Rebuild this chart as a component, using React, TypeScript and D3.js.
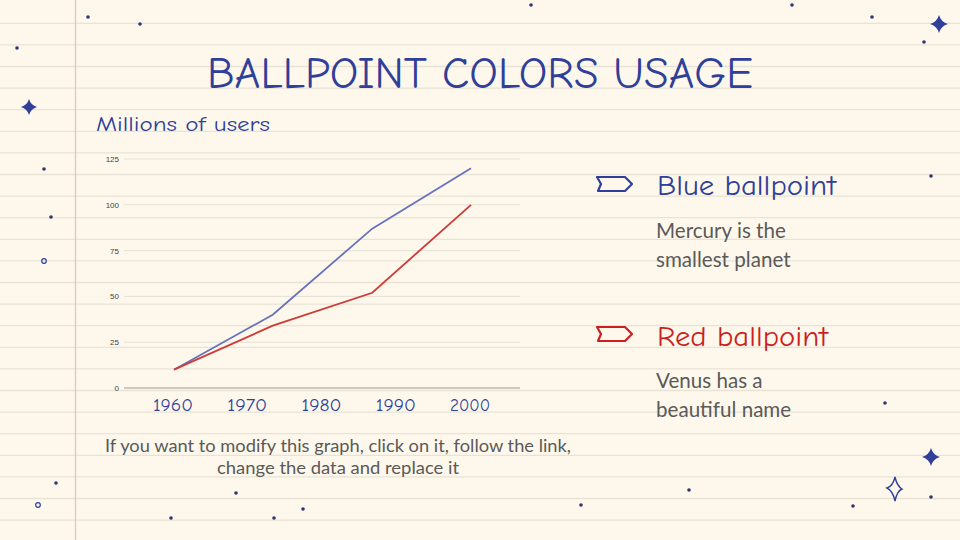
import React from "react";
import * as d3 from "d3";

const years = [1960, 1973.3, 1986.7, 2000];
const blueValues = [10, 40, 87, 120];
const redValues = [10, 34, 52, 100];
const yTicks = [0, 25, 50, 75, 100, 125];
const xTickLabels = [1960, 1970, 1980, 1990, 2000];

const dots: [number, number][] = [
  [88, 17], [140, 24], [531, 5], [792, 5], [872, 17], [924, 42], [17, 48],
  [44, 169], [51, 217], [931, 176], [885, 403], [931, 497], [56, 483],
  [171, 518], [236, 493], [274, 518], [303, 509], [581, 505], [689, 490], [853, 506],
];
const rings: [number, number][] = [[44, 261], [38, 505]];
const stars: [number, number, number][] = [[939, 24, 9], [29, 107, 8], [931, 457, 9]];

const HAND = "'Comic Neue', 'DejaVu Sans', sans-serif";
const INK = "#2f3f9a";

function Star({ x, y, r }: { x: number; y: number; r: number }) {
  const s = r * 0.22;
  const d = `M${x},${y - r} Q${x + s},${y - s} ${x + r},${y} Q${x + s},${y + s} ${x},${y + r} Q${x - s},${y + s} ${x - r},${y} Q${x - s},${y - s} ${x},${y - r}Z`;
  return <path d={d} fill={INK} />;
}

function Tag({ x, y, color }: { x: number; y: number; color: string }) {
  const d = `M${x},${y} L${x + 28},${y} L${x + 35},${y + 7} L${x + 28},${y + 14} L${x + 1},${y + 14} L${x + 4},${y + 7} Z`;
  return <path d={d} fill="none" stroke={color} strokeWidth={2.2} strokeLinejoin="round" />;
}

export default function App() {
  const W = 960, H = 540;
  const x = d3.scaleLinear().domain([1960, 2000]).range([174, 471]);
  const y = d3.scaleLinear().domain([0, 125]).range([388, 159]);
  const line = d3.line<number>().x((_, i) => x(years[i])).y((v) => y(v));
  const ruled = d3.range(0, 25).map((i) => 23.3 + i * 21.6).filter((v) => v < H);

  return (
    <svg width={W} height={H} style={{ position: "absolute", left: 0, top: 0 }}>
      <rect width={W} height={H} fill="#fdf8eb" />
      {ruled.map((ly, i) => (
        <line key={i} x1={0} x2={W} y1={ly} y2={ly} stroke="#e9e3d5" strokeWidth={1.3} />
      ))}
      <line x1={75.5} x2={75.5} y1={0} y2={H} stroke="#e2c6bd" strokeWidth={1.3} />

      {dots.map(([cx, cy], i) => (
        <circle key={i} cx={cx} cy={cy} r={1.8} fill="#2e3570" />
      ))}
      {rings.map(([cx, cy], i) => (
        <circle key={i} cx={cx} cy={cy} r={2.3} fill="none" stroke={INK} strokeWidth={1.2} />
      ))}
      {stars.map(([cx, cy, r], i) => (
        <Star key={i} x={cx} y={cy} r={r} />
      ))}
      <path d="M895,477 Q897,486 902,489 Q897,491 895,501 Q893,491 887,488 Q893,486 895,477Z" fill="none" stroke={INK} strokeWidth={1.4} />

      <text x={480} y={88} textAnchor="middle" fontFamily={HAND} fontSize={44} fontWeight={400} fill={INK} textLength={546} lengthAdjust="spacingAndGlyphs">
        BALLPOINT COLORS USAGE
      </text>
      <text x={96} y={131} fontFamily={HAND} fontSize={20} fontWeight={400} fill={INK} textLength={174} lengthAdjust="spacingAndGlyphs">
        Millions of users
      </text>

      {yTicks.map((t) => (
        <g key={t}>
          {t > 0 && <line x1={124} x2={520} y1={y(t)} y2={y(t)} stroke="#e4e1d8" strokeWidth={1} />}
          <text x={119} y={y(t) + 3} textAnchor="end" fontFamily="Arial, 'Liberation Sans', sans-serif" fontSize={8} fill="#444">
            {t}
          </text>
        </g>
      ))}
      <line x1={124} x2={520} y1={y(0)} y2={y(0)} stroke="#9a9a9a" strokeWidth={1.2} />
      {xTickLabels.map((t) => (
        <text key={t} x={x(t) - 1} y={411} textAnchor="middle" fontFamily={HAND} fontSize={18} fontWeight={400} fill={INK} textLength={40} lengthAdjust="spacingAndGlyphs">
          {t}
        </text>
      ))}
      <path d={line(blueValues) || ""} fill="none" stroke="#6673bd" strokeWidth={1.8} />
      <path d={line(redValues) || ""} fill="none" stroke="#cf3a36" strokeWidth={1.8} />

      <text x={338} y={452} textAnchor="middle" fontFamily="Lato, sans-serif" fontSize={18} fill="#5a5a5a" textLength={466} lengthAdjust="spacingAndGlyphs">
        If you want to modify this graph, click on it, follow the link,
      </text>
      <text x={338} y={474} textAnchor="middle" fontFamily="Lato, sans-serif" fontSize={18} fill="#5a5a5a" textLength={242} lengthAdjust="spacingAndGlyphs">
        change the data and replace it
      </text>

      <Tag x={597} y={177} color={INK} />
      <text x={657} y={195} fontFamily={HAND} fontSize={28} fontWeight={400} fill={INK} textLength={179} lengthAdjust="spacingAndGlyphs">
        Blue ballpoint
      </text>
      <text x={656} y={238} fontFamily="Lato, sans-serif" fontSize={20.6} fill="#5a5a5a">Mercury is the</text>
      <text x={656} y={267} fontFamily="Lato, sans-serif" fontSize={20.6} fill="#5a5a5a">smallest planet</text>

      <Tag x={597} y={327} color="#cc1f1f" />
      <text x={657} y={346} fontFamily={HAND} fontSize={28} fontWeight={400} fill="#cc1f1f" textLength={171} lengthAdjust="spacingAndGlyphs">
        Red ballpoint
      </text>
      <text x={656} y={388} fontFamily="Lato, sans-serif" fontSize={20.6} fill="#5a5a5a">Venus has a</text>
      <text x={656} y={417} fontFamily="Lato, sans-serif" fontSize={20.6} fill="#5a5a5a">beautiful name</text>
    </svg>
  );
}
